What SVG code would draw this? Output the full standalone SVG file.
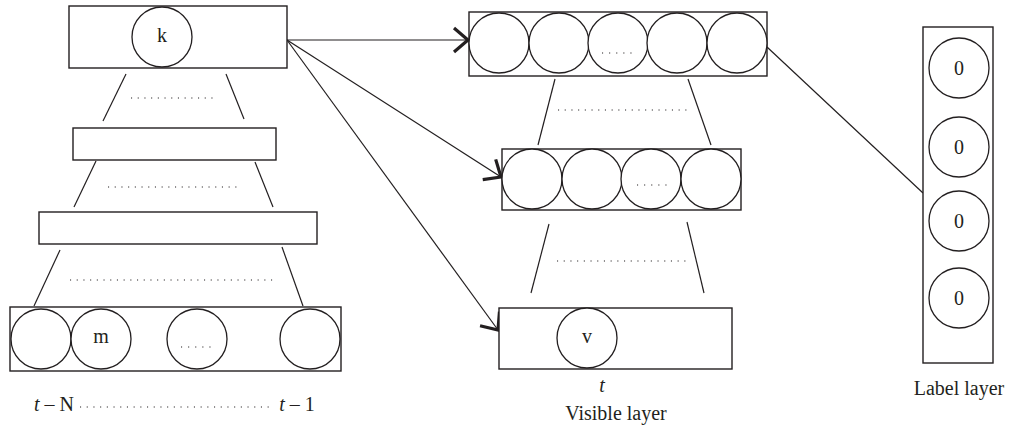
<svg xmlns="http://www.w3.org/2000/svg" width="1009" height="430" viewBox="0 0 1009 430">
  <defs>
    <style>
      .box { fill: #fff; stroke: #231f20; stroke-width: 1.4; }
      .unit { fill: #fff; stroke: #231f20; stroke-width: 1.3; }
      .link { fill: none; stroke: #231f20; stroke-width: 1.2; }
      .dots { fill: none; stroke: #231f20; stroke-width: 1.1; stroke-dasharray: 1.1 5.6; }
      .sdots { fill: none; stroke: #231f20; stroke-width: 1.1; stroke-dasharray: 1.1 6; }
      text { font-family: "Liberation Serif", "DejaVu Serif", serif; font-size: 20px; fill: #231f20; text-anchor: middle; }
      .it { font-style: italic; }
    </style>
    <marker id="chev" markerUnits="userSpaceOnUse" markerWidth="30" markerHeight="30" refX="0" refY="0" viewBox="-16 -15 20 30" orient="auto" overflow="visible">
      <path d="M-14,-12 L0,0 L-14,12" fill="none" stroke="#231f20" stroke-width="3.2" stroke-linejoin="miter"/>
    </marker>
  </defs>

  <!-- connectors: inter-layer links, directed arrows and label link -->
  <g id="connectors">
    <line class="link" x1="126" y1="74" x2="103" y2="121"/>
    <line class="link" x1="226" y1="74" x2="244" y2="119"/>
    <line class="link" x1="96" y1="161" x2="74" y2="207"/>
    <line class="link" x1="255" y1="162" x2="273" y2="207"/>
    <line class="link" x1="60" y1="250" x2="34" y2="306"/>
    <line class="link" x1="282" y1="247" x2="303" y2="306"/>
    <line class="link" x1="555" y1="79" x2="538" y2="145"/>
    <line class="link" x1="688" y1="79" x2="711" y2="145"/>
    <line class="link" x1="549" y1="224" x2="531" y2="293"/>
    <line class="link" x1="687" y1="222" x2="704" y2="293"/>
    <line class="link" x1="287" y1="40" x2="468" y2="40" marker-end="url(#chev)"/>
    <line class="link" x1="287" y1="40" x2="501" y2="177" marker-end="url(#chev)"/>
    <line class="link" x1="287" y1="40" x2="498" y2="330" marker-end="url(#chev)"/>
    <line class="link" x1="767" y1="47" x2="923" y2="193"/>
    <!-- ellipsis rows between layers -->
    <line class="dots" x1="131" y1="98" x2="215" y2="98"/>
    <line class="dots" x1="108" y1="187" x2="239" y2="187"/>
    <line class="dots" x1="70" y1="280" x2="275" y2="280"/>
    <line class="dots" x1="558" y1="110" x2="689" y2="110"/>
    <line class="dots" x1="557" y1="261" x2="689" y2="261"/>
    <line class="dots" x1="80" y1="407" x2="270" y2="407"/>
  </g>

  <!-- top hidden layer with unit k -->
  <g id="hidden-top">
    <rect class="box" x="69" y="6" width="218" height="62"/>
    <circle class="unit" cx="162" cy="37" r="30"/>
    <text x="162" y="42">k</text>
  </g>

  <g id="hidden-mid">
    <rect class="box" x="73" y="128" width="203" height="32"/>
  </g>

  <g id="hidden-low">
    <rect class="box" x="39" y="212" width="278" height="32"/>
  </g>

  <!-- history input row t-N ... t-1 -->
  <g id="history-layer">
    <rect class="box" x="10" y="307" width="331" height="64"/>
    <circle class="unit" cx="41" cy="339" r="30"/>
    <circle class="unit" cx="101" cy="339" r="30"/>
    <text x="101" y="343">m</text>
    <circle class="unit" cx="197" cy="339" r="30"/>
    <line class="sdots" x1="181" y1="347" x2="212" y2="347"/>
    <circle class="unit" cx="310" cy="339" r="30"/>
    <text x="54" y="411"><tspan class="it">t</tspan> – N</text>
    <text x="297" y="411"><tspan class="it">t</tspan> – 1</text>
  </g>

  <!-- visible-side upper layer -->
  <g id="visible-top">
    <rect class="box" x="469" y="12" width="298" height="64"/>
    <circle class="unit" cx="499" cy="43" r="30"/>
    <circle class="unit" cx="559" cy="43" r="30"/>
    <circle class="unit" cx="618" cy="43" r="30"/>
    <line class="sdots" x1="602" y1="53" x2="634" y2="53"/>
    <circle class="unit" cx="677" cy="43" r="30"/>
    <circle class="unit" cx="737" cy="43" r="30"/>
  </g>

  <g id="visible-mid">
    <rect class="box" x="502" y="149" width="239" height="61"/>
    <circle class="unit" cx="532" cy="179" r="30"/>
    <circle class="unit" cx="592" cy="179" r="30"/>
    <circle class="unit" cx="651" cy="179" r="30"/>
    <line class="sdots" x1="637" y1="185" x2="668" y2="185"/>
    <circle class="unit" cx="711" cy="179" r="30"/>
  </g>

  <!-- visible layer at time t -->
  <g id="visible-layer">
    <rect class="box" x="499" y="308" width="233" height="61"/>
    <circle class="unit" cx="587" cy="338" r="30"/>
    <text x="587" y="343">v</text>
    <text class="it" x="602" y="392">t</text>
    <text x="616" y="420">Visible layer</text>
  </g>

  <!-- label layer -->
  <g id="label-layer">
    <rect class="box" x="923" y="27" width="70" height="336"/>
    <circle class="unit" cx="959" cy="68" r="30"/>
    <text x="959" y="75">0</text>
    <circle class="unit" cx="959" cy="147" r="30"/>
    <text x="959" y="154">0</text>
    <circle class="unit" cx="959" cy="221" r="30"/>
    <text x="959" y="228">0</text>
    <circle class="unit" cx="959" cy="298" r="30"/>
    <text x="959" y="305">0</text>
    <text x="959" y="395">Label layer</text>
  </g>
</svg>
